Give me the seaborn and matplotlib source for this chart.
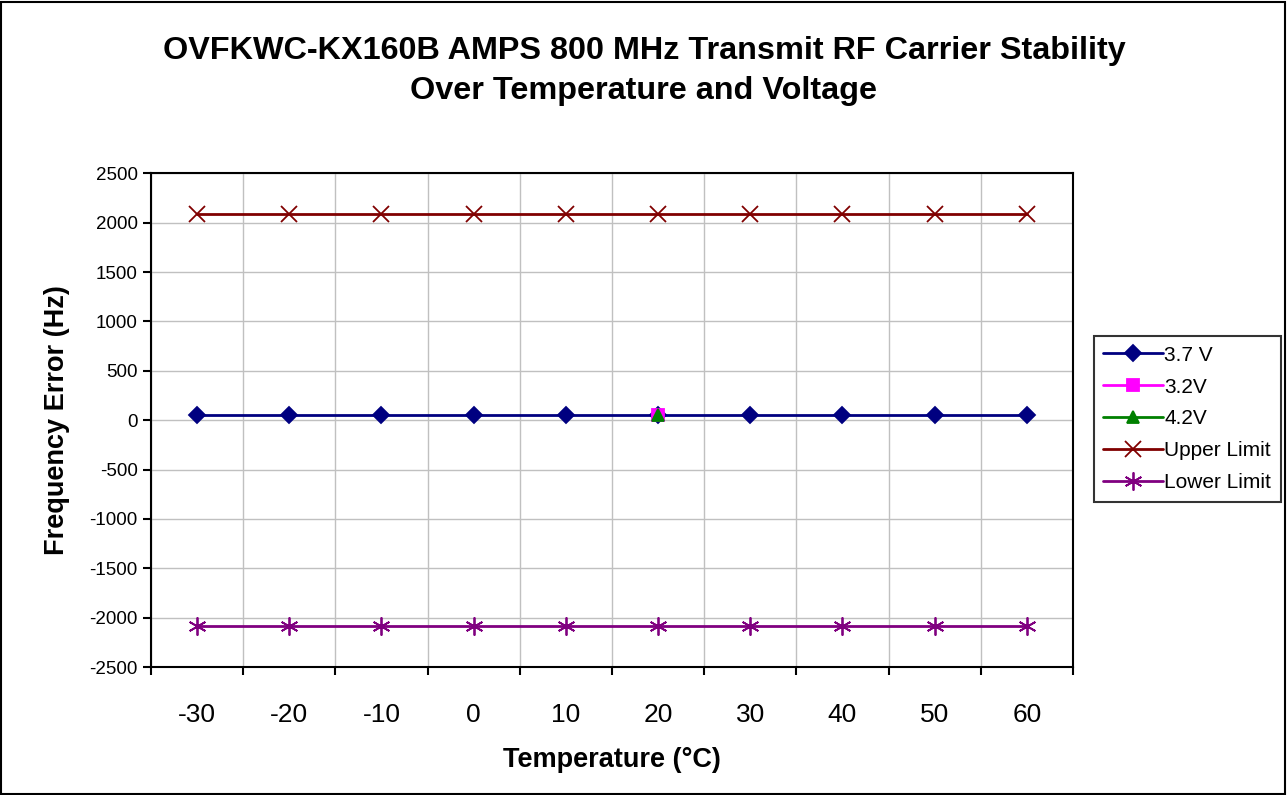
import numpy as np
import pandas as pd
import matplotlib
matplotlib.use("Agg")
import matplotlib.pyplot as plt
import seaborn as sns
from matplotlib.patches import Rectangle

temps = [-30, -20, -10, 0, 10, 20, 30, 40, 50, 60]
v37 = [50, 50, 50, 50, 50, 50, 50, 50, 50, 50]
v32 = [None, None, None, None, None, 50, None, None, None, None]
v42 = [None, None, None, None, None, 50, None, None, None, None]
upper = [2087] * 10
lower = [-2087] * 10

series = [
    ("3.7 V", v37, "#000080", "D", 8),
    ("3.2V", v32, "#FF00FF", "s", 8),
    ("4.2V", v42, "#008000", "^", 9),
    ("Upper Limit", upper, "#800000", "x", 11),
    ("Lower Limit", lower, "#800080", (6, 2, 0), 13),
]

sns.set_style("white")
plt.rcParams["font.family"] = ["Liberation Sans", "DejaVu Sans"]
plt.rcParams["axes.unicode_minus"] = False
plt.rcParams["text.color"] = "black"
plt.rcParams["axes.labelcolor"] = "black"
plt.rcParams["xtick.color"] = "black"
plt.rcParams["ytick.color"] = "black"

fig = plt.figure(figsize=(12.88, 7.95), dpi=100)
ax = fig.add_axes([0.1172, 0.161, 0.7158, 0.621])

pos = np.arange(len(temps))
for name, vals, col, mk, ms in series:
    df = pd.DataFrame({"x": pos, "y": pd.to_numeric(pd.Series(vals), errors="coerce")})
    sns.lineplot(data=df, x="x", y="y", ax=ax, color=col, marker=mk, markersize=ms,
                 markeredgecolor=col, markerfacecolor=col, markeredgewidth=1.3,
                 linewidth=2, label=name)

ax.set_xlim(-0.5, len(temps) - 0.5)
ax.set_ylim(-2500, 2500)
ax.set_yticks(np.arange(-2500, 2501, 500))
ax.set_xticks(np.arange(-0.5, len(temps), 1.0))
ax.set_xticklabels([])
ax.set_xticks(pos, minor=True)
ax.set_xticklabels([str(t) for t in temps], minor=True, fontsize=19)
ax.tick_params(axis="x", which="minor", length=0, pad=26)
ax.tick_params(axis="x", which="major", direction="out", length=6, width=1.5, bottom=True)
ax.tick_params(axis="y", direction="out", length=6, width=1.5, left=True, labelsize=13.5)
ax.grid(True, which="major", color="#C0C0C0", linewidth=1)
for s in ax.spines.values():
    s.set_color("black")
    s.set_linewidth(1.5)

ax.set_xlabel("Temperature (°C)", fontsize=19.5, fontweight="bold", labelpad=14)
ax.set_ylabel("Frequency Error (Hz)", fontsize=19.5, fontweight="bold", labelpad=14)
fig.suptitle("OVFKWC-KX160B AMPS 800 MHz Transmit RF Carrier Stability\nOver Temperature and Voltage",
             fontsize=23.3, fontweight="bold", y=0.955, linespacing=1.45)

if ax.legend_:
    ax.legend_.remove()
handles, labels = ax.get_legend_handles_labels()
leg = fig.legend(handles, labels, loc="center left", bbox_to_anchor=(0.849, 0.473),
                 fontsize=15, frameon=True, fancybox=False, edgecolor="black",
                 handlelength=2.9, handletextpad=0.05, labelspacing=0.62, borderpad=0.45,
                 borderaxespad=0)
leg.get_frame().set_linewidth(1.5)

fig.patches.append(Rectangle((0.001, 0.001), 0.997, 0.997, transform=fig.transFigure,
                             fill=False, edgecolor="black", linewidth=1.5))

fig.savefig("out.png", dpi=100)
